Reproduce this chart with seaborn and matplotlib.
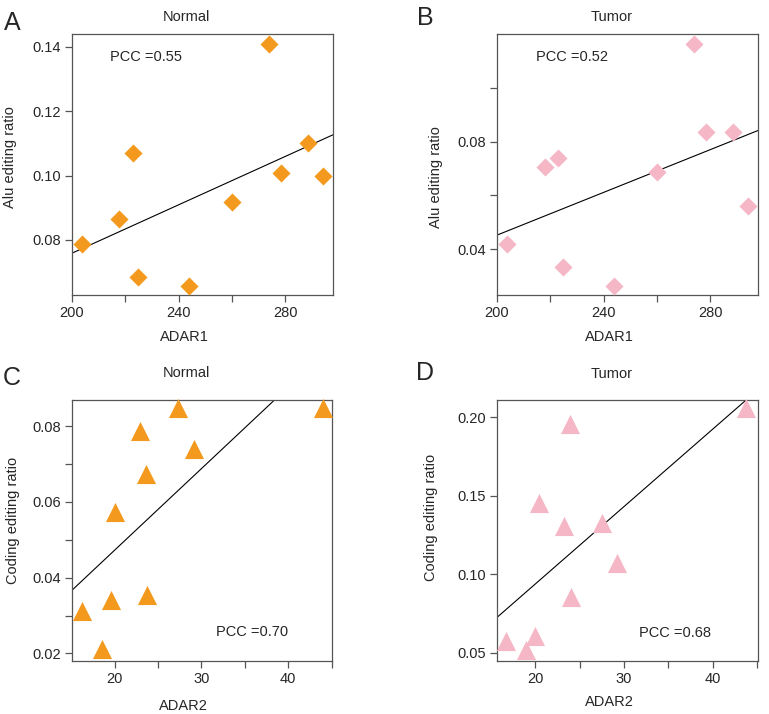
import numpy as np
import pandas as pd
import matplotlib
matplotlib.use("Agg")
import matplotlib.pyplot as plt
import seaborn as sns

# ADAR1 vs Alu editing ratio
adar1_normal = [203.6, 217.7, 222.9, 224.8, 243.9, 259.9, 274.1, 278.5, 288.5, 294.2]
alu_normal = [0.0789, 0.0865, 0.1069, 0.0684, 0.0658, 0.0918, 0.1408, 0.1008, 0.1100, 0.0998]
adar1_tumor = [203.6, 218.1, 222.9, 224.8, 243.9, 259.9, 274.1, 278.6, 288.7, 294.4]
alu_tumor = [0.0420, 0.0707, 0.0738, 0.0334, 0.0263, 0.0686, 0.1163, 0.0834, 0.0834, 0.0560]

# ADAR2 vs coding editing ratio
adar2_normal = [16.2, 18.5, 19.6, 20.0, 22.9, 23.6, 23.7, 27.3, 29.1, 44.0]
coding_normal = [0.0312, 0.0211, 0.0342, 0.0574, 0.0788, 0.0674, 0.0353, 0.0848, 0.0740, 0.0848]
adar2_tumor = [16.7, 19.0, 20.0, 20.4, 23.2, 23.9, 24.0, 27.5, 29.2, 43.7]
coding_tumor = [0.0577, 0.0517, 0.0606, 0.1451, 0.1304, 0.1955, 0.0857, 0.1326, 0.1070, 0.2057]

pcc_labels = ["PCC =0.55", "PCC =0.52", "PCC =0.70", "PCC =0.68"]

ORANGE = "#F39A1E"
PINK = "#F5B7C5"
GRAY = "#555555"

sns.set_style("ticks")
plt.rcParams["font.family"] = ["Liberation Sans", "DejaVu Sans"]


def draw_panel(fig, rect, x, y, xlab, ylab, title, letter, color, marker, size,
               xlim, ylim, xticks, xticklabels, yticks, yticklabels,
               pcc, pcc_pos, title_y, xlab_y, ylab_pos, letter_pos):
    ax = fig.add_axes(rect)
    ax.set_xlim(*xlim)
    ax.set_ylim(*ylim)
    df = pd.DataFrame({"x": x, "y": y})
    sns.scatterplot(data=df, x="x", y="y", ax=ax, color=color, marker=marker,
                    s=size, linewidth=0, clip_on=False, zorder=3)
    sns.regplot(data=df, x="x", y="y", ax=ax, scatter=False, ci=None,
                truncate=False, color="black", line_kws={"lw": 0.8})
    ax.set_xlim(*xlim)
    ax.set_ylim(*ylim)

    ax.set_xticks(xticks)
    ax.set_xticklabels(xticklabels)
    ax.set_yticks(yticks)
    ax.set_yticklabels(yticklabels)
    ax.tick_params(length=5, width=0.9, color=GRAY, labelsize=10.5, pad=3)
    for sp in ax.spines.values():
        sp.set_visible(True)
        sp.set_color(GRAY)
        sp.set_linewidth(0.9)

    ax.set_xlabel(xlab, fontsize=10.5)
    ax.set_ylabel(ylab, fontsize=10.5)
    ax.xaxis.set_label_coords(0.43, xlab_y)
    ax.yaxis.set_label_coords(*ylab_pos)
    ax.text(0.44, title_y, title, transform=ax.transAxes, ha="center",
            va="center", fontsize=10.5)
    ax.text(pcc_pos[0], pcc_pos[1], pcc, transform=ax.transAxes, ha="left",
            va="center", fontsize=10.5)
    fig.text(letter_pos[0], letter_pos[1], letter, ha="center", va="center",
             fontsize=18)
    return ax


fig = plt.figure(figsize=(7.69, 7.14), dpi=100)

W, H = 769, 714


def rect(x0, x1, y0, y1):
    return [x0 / W, (H - y1) / H, (x1 - x0) / W, (y1 - y0) / H]


def fpos(px, py):
    return (px / W, (H - py) / H)


draw_panel(fig, rect(72, 333, 34, 295), adar1_normal, alu_normal,
           "ADAR1", "Alu editing ratio", "Normal", "A", ORANGE, "D", 85,
           (200, 298), (0.0629, 0.144),
           [200, 220, 240, 260, 280], ["200", "", "240", "", "280"],
           [0.08, 0.10, 0.12, 0.14], ["0.08", "0.10", "0.12", "0.14"],
           pcc_labels[0], (0.146, 0.912), 1.065, -0.134, (-0.21, 0.53),
           fpos(12, 23))

draw_panel(fig, rect(497, 758, 34, 295), adar1_tumor, alu_tumor,
           "ADAR1", "Alu editing ratio", "Tumor", "B", PINK, "D", 85,
           (200, 298), (0.0229, 0.12),
           [200, 220, 240, 260, 280], ["200", "", "240", "", "280"],
           [0.04, 0.06, 0.08, 0.10], ["0.04", "", "0.08", ""],
           pcc_labels[1], (0.148, 0.912), 1.065, -0.134, (-0.207, 0.45),
           fpos(425, 18))

draw_panel(fig, rect(72, 332, 400, 661), adar2_normal, coding_normal,
           "ADAR2", "Coding editing ratio", "Normal", "C", ORANGE, "^", 190,
           (15.1, 45.05), (0.018, 0.0869),
           [20, 25, 30, 35, 40, 45], ["20", "", "30", "", "40", ""],
           [0.02, 0.03, 0.04, 0.05, 0.06, 0.07, 0.08],
           ["0.02", "", "0.04", "", "0.06", "", "0.08"],
           pcc_labels[2], (0.553, 0.112), 1.103, -0.146, (-0.20, 0.54),
           fpos(12, 378))

draw_panel(fig, rect(497, 758, 400, 661), adar2_tumor, coding_tumor,
           "ADAR2", "Coding editing ratio", "Tumor", "D", PINK, "^", 190,
           (15.7, 45.1), (0.0447, 0.211),
           [20, 25, 30, 35, 40, 45], ["20", "", "30", "", "40", ""],
           [0.05, 0.10, 0.15, 0.20], ["0.05", "0.10", "0.15", "0.20"],
           pcc_labels[3], (0.544, 0.109), 1.10, -0.13, (-0.226, 0.55),
           fpos(425, 373))

fig.savefig("out.png", dpi=100)
